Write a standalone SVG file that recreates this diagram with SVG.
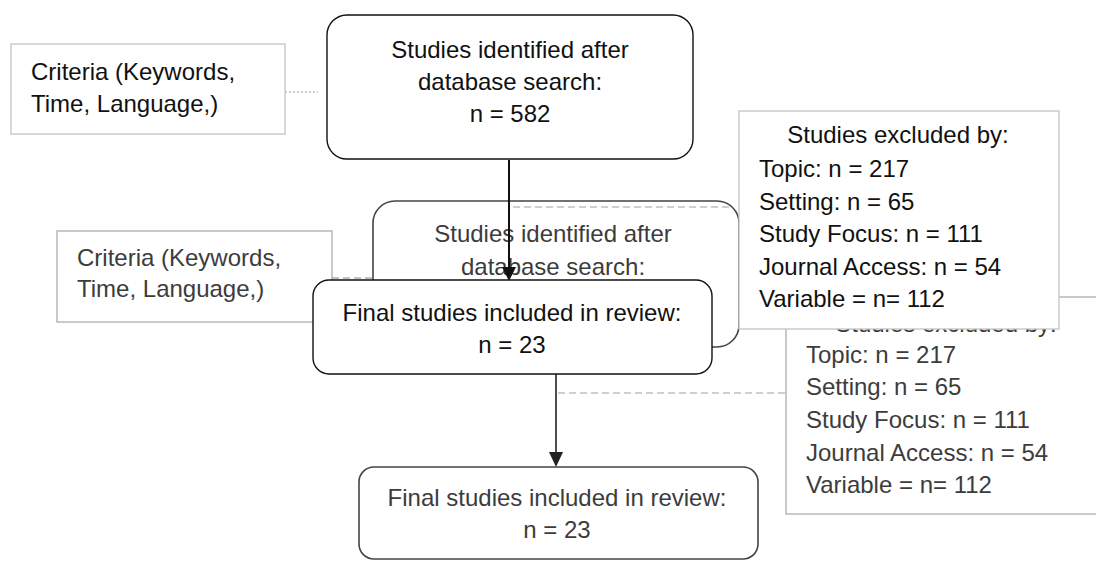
<svg xmlns="http://www.w3.org/2000/svg" width="1096" height="561" viewBox="0 0 1096 561">
<style>
text{font-family:"Liberation Sans",Arial,sans-serif;font-size:24px;}
.fg{fill:#111;}
.bg{fill:#3c3c3c;}
.c{text-anchor:middle;}
.box{fill:#fff;stroke:#111;stroke-width:1.4;}
.bgbox{fill:#fff;stroke:#444;stroke-width:1.6;}
.sq{fill:#fff;stroke:#c4c4c4;stroke-width:1.3;}
.sq2{fill:#fff;stroke:#b8b8b8;stroke-width:1.5;}
.dot{stroke:#9a9a9a;stroke-width:1;stroke-dasharray:2 2;fill:none;}
.dash{stroke:#a0a0a0;stroke-width:1.2;stroke-dasharray:7 4;fill:none;}
.ln{stroke:#111;stroke-width:2;fill:none;}
.bgln{stroke:#222;stroke-width:1.6;fill:none;}
</style>
<rect width="1096" height="561" fill="#fff"/>

<!-- background (faded copy) layer -->
<g id="bg-criteria">
<rect class="sq2" x="57" y="231" width="275" height="91"/>
<text class="bg" x="77" y="266">Criteria (Keywords,</text>
<text class="bg" x="77" y="297">Time, Language,)</text>
</g>
<g id="bg-identified">
<rect class="bgbox" x="373" y="201" width="366" height="146" rx="22"/>
<line class="dash" x1="513" y1="207" x2="733" y2="207"/>
<text class="bg c" x="553" y="242">Studies identified after</text>
<text class="bg c" x="553" y="275">database search:</text>
</g>
<g id="bg-excluded">
<rect class="sq2" x="786" y="297" width="320" height="217"/>
<text class="bg c" x="946" y="332">Studies excluded by:</text>
<text class="bg" x="806" y="363">Topic: n = 217</text>
<text class="bg" x="806" y="395">Setting: n = 65</text>
<text class="bg" x="806" y="428">Study Focus: n = 111</text>
<text class="bg" x="806" y="461">Journal Access: n = 54</text>
<text class="bg" x="806" y="493">Variable = n= 112</text>
</g>
<g id="bg-final">
<rect class="bgbox" x="359" y="467" width="399" height="92" rx="15"/>
<text class="bg c" x="557" y="506">Final studies included in review:</text>
<text class="bg c" x="557" y="538">n = 23</text>
</g>
<g id="bg-connectors">
<line class="dash" x1="332" y1="278" x2="372" y2="278" style="stroke:#888"/>
<line class="dash" x1="558" y1="393" x2="786" y2="393"/>
<line class="bgln" x1="556" y1="374" x2="556" y2="453"/>
<polygon points="549,452 563,452 556,467" fill="#222"/>
</g>

<!-- foreground layer -->
<g id="connectors">
<line class="dot" x1="285" y1="92" x2="318" y2="92"/>
<line class="ln" x1="509" y1="160" x2="509" y2="269"/>
<polygon points="502,267 516,267 509,281" fill="#111"/>
</g>
<g id="criteria">
<rect class="sq" x="11" y="44" width="274" height="90"/>
<text class="fg" x="31" y="80">Criteria (Keywords,</text>
<text class="fg" x="31" y="112">Time, Language,)</text>
</g>
<g id="identified">
<rect class="box" x="327" y="15" width="366" height="144" rx="20"/>
<text class="fg c" x="510" y="58">Studies identified after</text>
<text class="fg c" x="510" y="90">database search:</text>
<text class="fg c" x="510" y="122">n = 582</text>
</g>
<g id="excluded">
<rect class="sq" x="739" y="111" width="320" height="218"/>
<text class="fg c" x="898" y="143">Studies excluded by:</text>
<text class="fg" x="759" y="177">Topic: n = 217</text>
<text class="fg" x="759" y="210">Setting: n = 65</text>
<text class="fg" x="759" y="242">Study Focus: n = 111</text>
<text class="fg" x="759" y="275">Journal Access: n = 54</text>
<text class="fg" x="759" y="307">Variable = n= 112</text>
</g>
<g id="final">
<rect class="box" x="313" y="280" width="399" height="94" rx="16"/>
<text class="fg c" x="512" y="321">Final studies included in review:</text>
<text class="fg c" x="512" y="353">n = 23</text>
</g>
</svg>
